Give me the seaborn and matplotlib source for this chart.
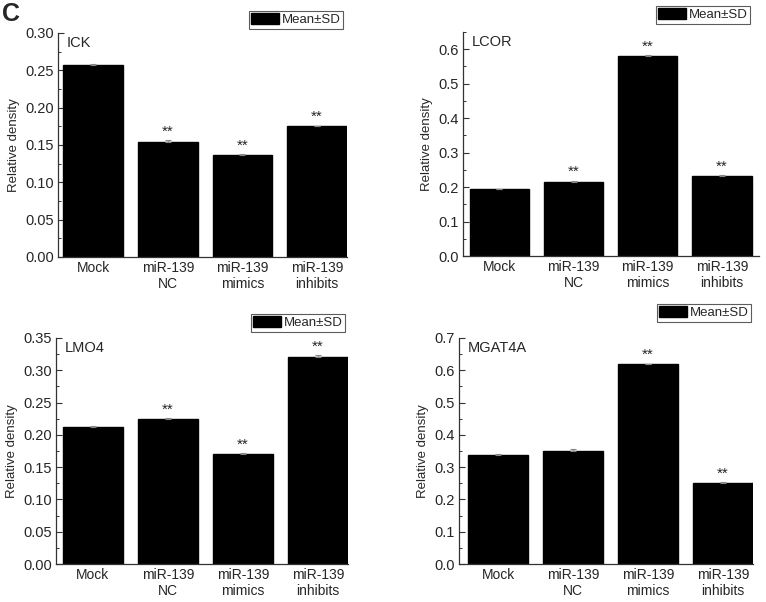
import numpy as np
import pandas as pd
import matplotlib
matplotlib.use("Agg")
import matplotlib.pyplot as plt
from matplotlib.patches import Patch
from matplotlib.ticker import MultipleLocator, AutoMinorLocator
import seaborn as sns

sns.set_theme(style="white")
plt.rcParams['font.family'] = ['Liberation Sans', 'DejaVu Sans']

groups = ["Mock", "miR-139\nNC", "miR-139\nmimics", "miR-139\ninhibits"]

genes = ["ICK", "LCOR", "LMO4", "MGAT4A"]
ick_mean = [0.257, 0.154, 0.136, 0.175]
ick_sd = [0.001, 0.003, 0.002, 0.001]
lcor_mean = [0.194, 0.216, 0.580, 0.232]
lcor_sd = [0.001, 0.003, 0.003, 0.002]
lmo4_mean = [0.212, 0.225, 0.170, 0.320]
lmo4_sd = [0.001, 0.001, 0.002, 0.004]
mgat_mean = [0.338, 0.349, 0.619, 0.250]
mgat_sd = [0.003, 0.007, 0.002, 0.004]

ick_sig = ["", "**", "**", "**"]
lcor_sig = ["", "**", "**", "**"]
lmo4_sig = ["", "**", "**", "**"]
mgat_sig = ["", "", "**", "**"]

panels = [
    ("ICK", ick_mean, ick_sd, ick_sig, 0.30, 0.05, "%.2f"),
    ("LCOR", lcor_mean, lcor_sd, lcor_sig, 0.65, 0.1, "%.1f"),
    ("LMO4", lmo4_mean, lmo4_sd, lmo4_sig, 0.35, 0.05, "%.2f"),
    ("MGAT4A", mgat_mean, mgat_sd, mgat_sig, 0.70, 0.1, "%.1f"),
]

W, H = 766, 602
fig = plt.figure(figsize=(W / 100, H / 100), dpi=100)

# pixel boxes: left, right, top, bottom
boxes = [
    (58, 347, 33, 257),
    (463, 759, 32, 256),
    (56, 348, 338, 564),
    (459, 753, 338, 564),
]
xlims = [(-0.47, 3.40), (-0.49, 3.50), (-0.49, 3.40), (-0.525, 3.40)]
legend_boxes = [  # right, bottom in pixels
    (343, 29), (750, 24), (345, 332), (751, 322)
]

for (gene, means, sds, sig, ymax, step, fmt), (l, r, t, b), xl, (lr, lb) in zip(panels, boxes, xlims, legend_boxes):
    ax = fig.add_axes([l / W, 1 - b / H, (r - l) / W, (b - t) / H])
    df = pd.DataFrame({"group": groups, "value": means})
    sns.barplot(data=df, x="group", y="value", ax=ax, color="black",
                width=0.8, errorbar=None, saturation=1, edgecolor="black")
    ax.errorbar(np.arange(len(groups)), means, yerr=[np.zeros(len(sds)), sds],
                fmt="none", ecolor="#888888", elinewidth=0.8, capsize=2.5, capthick=0.8)
    for i, (m, s, st) in enumerate(zip(means, sds, sig)):
        if st:
            ax.annotate(st, (i, m + s), xytext=(0, 1.0), textcoords="offset points",
                        ha="center", va="bottom", fontsize=11)
    ax.set_ylim(0, ymax)
    ax.set_xlim(*xl)
    ax.yaxis.set_major_locator(MultipleLocator(step))
    ax.yaxis.set_minor_locator(AutoMinorLocator(2))
    ax.yaxis.set_major_formatter(matplotlib.ticker.FormatStrFormatter(fmt))
    ax.set_xlabel("")
    ax.set_ylabel("Relative density", fontsize=9.5, labelpad=4)
    for sp in ["top", "right"]:
        ax.spines[sp].set_visible(False)
    for sp in ["left", "bottom"]:
        ax.spines[sp].set_color("#333333")
        ax.spines[sp].set_linewidth(0.9)
    ax.tick_params(axis="y", which="major", direction="in", length=4, width=0.8,
                   left=True, labelsize=10.5, pad=3, color="#333333")
    ax.tick_params(axis="y", which="minor", direction="in", length=2, width=0.7,
                   left=True, color="#333333")
    ax.tick_params(axis="x", which="both", bottom=False, length=0, labelsize=10, pad=3)
    ax.text(0.03, 0.985, gene, transform=ax.transAxes, ha="left", va="top", fontsize=10.5)
    handle = Patch(facecolor="black", edgecolor="black")
    leg = fig.legend(handles=[handle], labels=["Mean\u00b1SD"], loc="lower right",
                     bbox_to_anchor=(lr / W, 1 - lb / H), frameon=True, fancybox=False,
                     fontsize=9.5, handlelength=2.1, handleheight=0.9, handletextpad=0.2,
                     borderpad=0.2, borderaxespad=0, edgecolor="#333333")
    leg.get_frame().set_linewidth(0.8)

fig.text(2 / W, 1 - 2 / H, "C", fontsize=18, fontweight="bold", ha="left", va="top")

fig.savefig("out.png", dpi=100)
